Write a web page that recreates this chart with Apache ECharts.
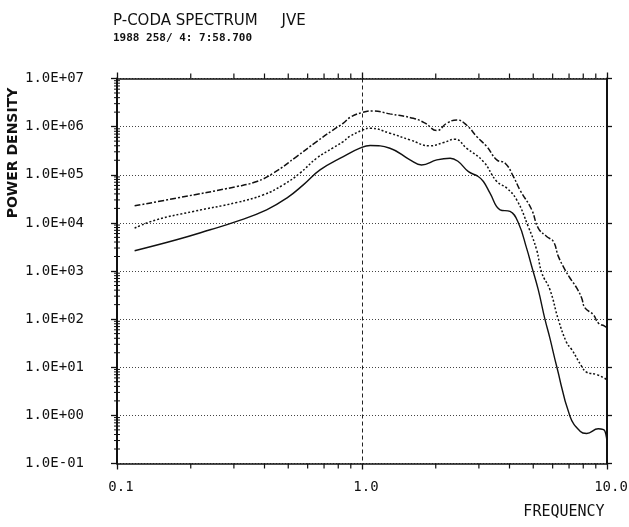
<!DOCTYPE html>
<html>
<head>
<meta charset="utf-8">
<title>P-CODA SPECTRUM JVE</title>
<script src="https://cdn.jsdelivr.net/npm/echarts@6/dist/echarts.min.js"></script>
<style>
html, body { margin: 0; padding: 0; background: #fff; }
#main { width: 629px; height: 527px; }
</style>
</head>
<body>
<div id="main"></div>
<script>
// curves: frequency (Hz) and power density
var freqUpper = [0.118, 0.175, 0.308, 0.372, 0.435, 0.541, 0.653, 0.761, 0.839, 0.893, 0.997, 1.11, 1.30, 1.62, 1.81, 2.02, 2.22, 2.44, 2.67, 2.94, 3.23, 3.55, 3.84, 4.15, 4.41, 4.93, 5.24, 5.67, 6.04, 6.33, 6.74, 7.06, 7.52, 7.88, 8.13, 8.79, 9.21, 9.81, 10.0];
var powerUpper = [2.26e4, 3.27e4, 5.69e4, 7.23e4, 1.08e5, 2.39e5, 4.89e5, 8.5e5, 1.18e6, 1.55e6, 1.95e6, 2.12e6, 1.84e6, 1.49e6, 1.18e6, 8.26e5, 1.18e6, 1.38e6, 1.08e6, 6.21e5, 3.85e5, 2.04e5, 1.74e5, 9.18e4, 4.86e4, 1.87e4, 7.80e3, 5.22e3, 4.11e3, 2.01e3, 1.06e3, 716, 444, 275, 171, 124, 83.4, 71.0, 66.0];

var freqMiddle = [0.118, 0.145, 0.205, 0.308, 0.396, 0.477, 0.558, 0.653, 0.761, 0.839, 0.893, 1.01, 1.08, 1.30, 1.57, 1.90, 2.15, 2.40, 2.67, 3.13, 3.55, 3.90, 4.28, 4.77, 5.16, 5.42, 5.85, 6.33, 6.85, 7.18, 7.88, 8.26, 9.08, 9.97];
var powerMiddle = [7.80e3, 1.16e4, 1.73e4, 2.65e4, 3.83e4, 6.17e4, 1.08e5, 2.21e5, 3.6e5, 4.9e5, 6.3e5, 8.55e5, 9.27e5, 7.29e5, 5.30e5, 3.98e5, 4.66e5, 5.48e5, 3.56e5, 1.88e5, 7.24e4, 5.27e4, 3.01e4, 8.41e3, 2.77e3, 910, 409, 97.7, 32.1, 23.3, 10.5, 7.87, 7.06, 5.56];

var freqLower = [0.118, 0.175, 0.240, 0.308, 0.408, 0.493, 0.576, 0.674, 0.839, 0.981, 1.08, 1.30, 1.57, 1.75, 2.02, 2.29, 2.47, 2.72, 2.98, 3.13, 3.33, 3.66, 4.02, 4.35, 4.70, 4.93, 5.24, 5.58, 5.85, 6.23, 7.06, 7.76, 8.26, 9.21, 9.81, 10.0];
var powerLower = [2.64e3, 4.46e3, 7.19e3, 1.07e4, 1.87e4, 3.27e4, 6.17e4, 1.26e5, 2.39e5, 3.56e5, 4.04e5, 3.56e5, 2.04e5, 1.60e5, 2.04e5, 2.21e5, 1.88e5, 1.16e5, 9.18e4, 7.24e4, 4.15e4, 1.87e4, 1.73e4, 9.91e3, 2.95e3, 1.24e3, 409, 100, 39.8, 10.5, 0.962, 0.470, 0.421, 0.527, 0.470, 0.230];

// tick labels, indexed by decade from the axis minimum
var xTickLabels = ['0.1', '1.0', '10.0'];
var yTickLabels = ['1.0E-01', '1.0E+00', '1.0E+01', '1.0E+02', '1.0E+03', '1.0E+04', '1.0E+05', '1.0E+06', '1.0E+07'];
var minorSteps = [2, 3, 4, 5, 6, 7, 8, 9];

var xMin = 0.1, xMax = 10, yMin = 0.1, yMax = 1e7;
var ink = '#111';
var font = 'DejaVu Sans';
var mono = 'DejaVu Sans Mono';

function pairs(xs, ys) {
    return xs.map(function (x, i) { return [x, ys[i]]; });
}
function decade(v, min) {
    return Math.round(Math.log(v / min) / Math.LN10);
}

// log minor ticks (2..9 in each decade) for the frame
var xMinor = [], yMinor = [];
for (var d = xMin; d < xMax * 0.99; d *= 10) {
    minorSteps.forEach(function (m) { xMinor.push([d * m, yMin]); });
}
for (var e = yMin; e < yMax * 0.99; e *= 10) {
    minorSteps.forEach(function (m) { yMinor.push([xMin, e * m]); });
}

var myChart = echarts.init(document.getElementById('main'));

var option = {
    backgroundColor: '#fff',
    animation: false,
    title: {
        text: 'P-CODA SPECTRUM     JVE',
        subtext: '1988 258/ 4: 7:58.700',
        left: 108,
        top: 9,
        itemGap: 4,
        textStyle: { fontFamily: font, fontSize: 15, fontWeight: 'normal', color: ink },
        subtextStyle: { fontFamily: mono, fontSize: 11, fontWeight: 'bold', color: ink }
    },
    grid: {
        left: 117,
        right: 22,
        top: 78.5,
        bottom: 63.5,
        containLabel: false,
        outerBoundsMode: 'none'
    },
    xAxis: [{
        type: 'log',
        logBase: 10,
        min: xMin,
        max: xMax,
        position: 'bottom',
        axisLine: { lineStyle: { color: ink, width: 1.5 } },
        axisTick: { inside: false, length: 6, lineStyle: { color: ink, width: 1.3 } },
        axisLabel: {
            margin: 17,
            color: ink,
            fontFamily: mono,
            fontSize: 14,
            padding: [0, 0, 0, 8],
            formatter: function (v) { return xTickLabels[decade(v, xMin)]; }
        },
        splitLine: { show: true, lineStyle: { color: '#222', width: 1, type: [4, 3] } }
    }, {
        type: 'log',
        logBase: 10,
        min: xMin,
        max: xMax,
        position: 'top',
        axisLine: { lineStyle: { color: ink, width: 1.5 } },
        axisTick: { inside: false, length: 6, lineStyle: { color: ink, width: 1.3 } },
        axisLabel: { show: false },
        splitLine: { show: false }
    }],
    yAxis: [{
        type: 'log',
        logBase: 10,
        min: yMin,
        max: yMax,
        position: 'left',
        axisLine: { lineStyle: { color: ink, width: 2 } },
        axisTick: { inside: false, length: 6, lineStyle: { color: ink, width: 1.3 } },
        axisLabel: {
            margin: 33,
            color: ink,
            fontFamily: mono,
            fontSize: 14,
            padding: [8, 0, 0, 0],
            formatter: function (v) { return yTickLabels[decade(v, yMin)]; }
        },
        splitLine: { show: true, lineStyle: { color: '#444', width: 1, type: [1, 2] } }
    }, {
        type: 'log',
        logBase: 10,
        min: yMin,
        max: yMax,
        position: 'right',
        axisLine: { lineStyle: { color: ink, width: 2 } },
        axisTick: { inside: false, length: 5, lineStyle: { color: ink, width: 1.3 } },
        axisLabel: { show: false },
        splitLine: { show: false }
    }],
    graphic: [{
        type: 'text',
        x: 13,
        y: 153,
        rotation: Math.PI / 2,
        style: {
            text: 'POWER DENSITY',
            fontFamily: font,
            fontSize: 14,
            fontWeight: 'bold',
            fill: ink,
            align: 'center',
            verticalAlign: 'middle'
        }
    }, {
        type: 'text',
        x: 564,
        y: 512,
        style: {
            text: 'FREQUENCY',
            fontFamily: mono,
            fontSize: 15,
            fill: ink,
            align: 'center',
            verticalAlign: 'middle'
        }
    }],
    series: [{
        name: 'upper',
        type: 'line',
        data: pairs(freqUpper, powerUpper),
        symbol: 'none',
        smooth: 0.45,
        lineStyle: { color: ink, width: 1.5, type: [6, 2, 2, 2] }
    }, {
        name: 'middle',
        type: 'line',
        data: pairs(freqMiddle, powerMiddle),
        symbol: 'none',
        smooth: 0.45,
        lineStyle: { color: ink, width: 1.5, type: [2, 2] }
    }, {
        name: 'lower',
        type: 'line',
        data: pairs(freqLower, powerLower),
        symbol: 'none',
        smooth: 0.45,
        lineStyle: { color: ink, width: 1.4 }
    }, {
        // minor ticks on the bottom and top frame edges
        type: 'custom',
        data: xMinor,
        clip: false,
        silent: true,
        renderItem: function (params, api) {
            var f = api.value(0);
            var pb = api.coord([f, yMin]);
            var pt = api.coord([f, yMax]);
            var st = { stroke: ink, lineWidth: 1.2 };
            return {
                type: 'group',
                children: [
                    { type: 'line', shape: { x1: pb[0], y1: pb[1], x2: pb[0], y2: pb[1] + 5 }, style: st },
                    { type: 'line', shape: { x1: pt[0], y1: pt[1], x2: pt[0], y2: pt[1] - 5 }, style: st }
                ]
            };
        }
    }, {
        // minor ticks on the left frame edge
        type: 'custom',
        data: yMinor,
        clip: false,
        silent: true,
        renderItem: function (params, api) {
            var p = api.coord([xMin, api.value(1)]);
            return {
                type: 'line',
                shape: { x1: p[0] - 3, y1: p[1], x2: p[0] + 3, y2: p[1] },
                style: { stroke: ink, lineWidth: 1 }
            };
        }
    }]
};

myChart.setOption(option);
</script>
</body>
</html>
